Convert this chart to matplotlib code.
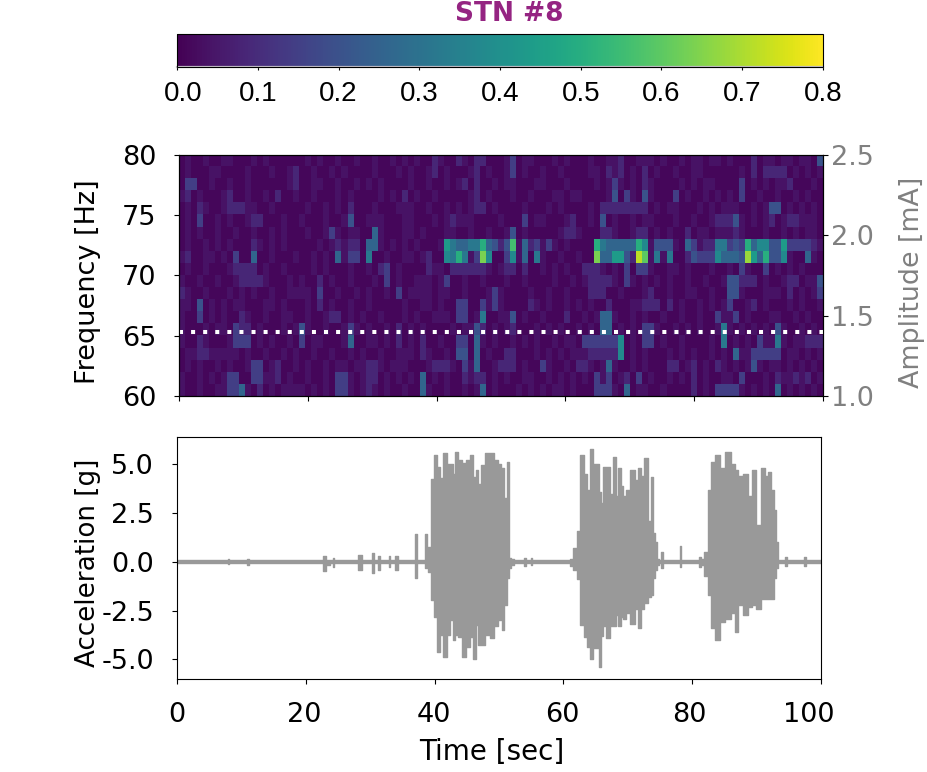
import numpy as np
import matplotlib
matplotlib.use('Agg')
import matplotlib.pyplot as plt
from matplotlib.transforms import ScaledTranslation

plt.rcParams['axes.unicode_minus'] = False
plt.rcParams['font.size'] = 19.5

# spectrogram levels per row (top row = 79-80 Hz), hex digit indexes spec_levels
spec_levels = [0.015, 0.04, 0.085, 0.15, 0.2, 0.26, 0.32, 0.38, 0.44, 0.5, 0.56, 0.6, 0.64, 0.68, 0.72]
spec_rows = [
    "0100100110 0010100000 0101001001 0010010101 0021002102 2000130110 0010100010 0112001110 1001011011 0100020110 1101104",
    "0100011000 0100010012 0010010100 0010001010 0120100012 0100130100 1001000011 0212010201 0010011000 0001020222 2010101",
    "0330010010 0100000012 0011001001 0101000010 0100101202 0010110001 1000100001 0131010210 0001010110 0003010101 1200010",
    "1201000120 0100102001 0010001010 0001010201 0010000012 0100010010 0011011000 0140310410 0030100101 0103001001 0010100",
    "0102100122 2110010000 0100101020 0010001110 0100101012 2010000100 0101000010 2222222201 0110001010 1110010144 0101010",
    "0103001010 0122000100 1000100140 0111000110 0010121110 0001000301 1000120010 4010010110 0010010012 2241010120 1221110",
    "0101001001 0010010100 0100131011 0051000110 1000110010 0100140100 0001221000 2210012201 0100201101 1121000100 1010110",
    "0100101010 0021010100 0001012122 0551010101 0001865566 95424a1523 1310100009 6555559714 4410531226 6343957744 8333321",
    "1200110103 0050010001 0010105133 0600100110 1200769613 c700371506 100100100c 558842eb16 1600243337 5554d85944 7100510",
    "0100100012 2220100100 0010100010 0102301000 0211022222 2101220200 1010100222 1010303310 0110100010 0103100301 0101000",
    "1001001001 2222100010 1002010010 0010301001 1101300100 1000100100 0010010122 2210310101 0100100100 1442220100 1220114",
    "2100100010 1010010011 1103001001 0100103011 1101100100 0131000010 0100100022 2001000120 0100110010 0441000111 0201013",
    "1104010101 1000110100 0102010010 0100000100 1101003300 3131000021 0100101010 0200011222 0201001010 1300120100 0101001",
    "1003010100 2100100110 0100122010 1001000101 0011103301 6001140100 1000200101 5510010100 1001001003 1130100011 0010100",
    "1000101103 2201000101 4100100131 0100102010 1000010114 2010120001 0101001010 5501010331 0010101001 6101010104 1001010",
    "1002100013 3301010010 3011000150 0110102010 2001003305 1010010101 0010110333 3337010330 1001000010 6010103116 1011222",
    "0112211111 0100100101 0010010010 1001001110 2100104405 0100220001 0101011122 2227010100 0101010010 1051133333 0110101",
    "0101001010 0133012001 0100101101 1221011100 0122210315 0012220100 3100102210 1510010100 0220120102 1010141011 0101010",
    "1001010133 0033112010 0100103310 1220101010 5010100212 2010100110 0101010103 1301203010 0101020100 1103000102 1121201",
    "1001001133 5102010111 1010103310 1210100100 5100100101 5010001010 1011010003 3310501100 1000020103 3331010105 0101010",
]

# acceleration envelope: time, upper and lower edge
acc_time = [0, 5, 7.7, 8, 8.3, 10.7, 11, 11.3, 20, 22.4, 22.85, 23.4, 24, 24.3, 24.6, 27.9, 28.4, 28.9, 30.1, 30.4, 30.7, 31, 31.3, 31.6,
            32.7, 33, 33.3, 33.7, 34.1, 34.5, 36.9, 37.15, 37.4, 38.4, 38.65, 38.9, 39.2,
            39.6, 40.1, 40.6, 41.1, 41.65, 42.2, 42.7, 43.05, 43.4, 44.0, 44.5, 45.1, 45.8, 46.15, 46.6, 47.0,
            47.5, 48.15, 48.9, 49.4, 50.2, 50.4, 50.65, 50.95, 51.4, 51.7,
            52, 52.8, 53.7, 54, 54.3, 54.8, 55, 55.2, 60.8, 61.3, 61.8, 62.3,
            62.9, 63.4, 63.9, 64.4, 64.9, 65.4, 65.7, 66, 66.4, 66.9, 67.5, 67.9, 68.3, 68.7, 69.1, 69.5, 70,
            70.8, 71.4, 71.8, 72.3, 72.8, 73.4, 73.7, 74.1, 74.4, 74.7,
            75.05, 75.3, 75.55, 77.95, 78.2, 78.45, 80.8, 81.2, 81.6, 82.2,
            82.7, 83.2, 84, 84.5, 85.6, 86.3, 86.9, 87.4, 88.3, 89, 89.6, 90.3, 91, 91.5, 92, 92.5, 92.9, 93.2,
            93.6, 94.3, 94.6, 94.9, 97.2, 97.5, 97.8, 100]
acc_high = [0.08, 0.08, 0.08, 0.13, 0.08, 0.08, 0.13, 0.08, 0.08, 0.08, 0.3, 0.08, 0.08, 0.2, 0.08, 0.08, 0.35, 0.08, 0.08, 0.45, 0.08, 0.08, 0.3, 0.08,
            0.08, 0.3, 0.08, 0.08, 0.3, 0.08, 0.08, 1.45, 0.08, 0.08, 1.45, 0.3, 0.77,
            4.27, 5.5, 4.87, 4.3, 5.6, 5.0, 5.0, 4.5, 5.65, 5.2, 5.05, 5.2, 5.5, 4.36, 4.7, 4.0,
            4.96, 5.6, 5.6, 5.2, 5.0, 4.8, 4.8, 3.3, 5.1, 0.2,
            0.15, 0.08, 0.08, 0.2, 0.08, 0.08, 0.18, 0.08, 0.08, 0.15, 0.7, 1.6,
            5.47, 4.5, 3.67, 5.8, 5.0, 5.0, 3.6, 3.0, 4.87, 4.87, 3.5, 5.4, 3.4, 4.8, 3.9, 3.4, 3.7,
            4.7, 4.2, 4.8, 4.4, 5.3, 2.1, 4.36, 1.5, 1.0, 0.15,
            0.08, 0.5, 0.08, 0.08, 0.8, 0.08, 0.08, 0.25, 0.15, 0.5,
            3.67, 5.1, 5.5, 4.8, 5.64, 5.0, 4.7, 4.4, 4.5, 3.4, 4.7, 1.9, 4.8, 4.4, 4.6, 3.67, 2.65, 1.0,
            0.08, 0.08, 0.25, 0.08, 0.08, 0.25, 0.08, 0.08]
acc_low = [-0.08, -0.08, -0.08, -0.12, -0.08, -0.08, -0.14, -0.08, -0.08, -0.08, -0.45, -0.14, -0.08, -0.25, -0.08, -0.08, -0.4, -0.08, -0.08, -0.55, -0.08, -0.08, -0.4, -0.08,
           -0.08, -0.25, -0.08, -0.08, -0.4, -0.08, -0.08, -0.85, -0.08, -0.08, -0.3, -0.2, -0.5,
           -1.97, -2.8, -4.6, -3.76, -4.87, -3.76, -3.0, -4.0, -3.76, -3.85, -4.87, -4.36, -3.85, -4.96, -3.25, -4.27,
           -4.27, -3.76, -3.9, -3.3, -3.0, -2.8, -3.5, -2.2, -0.85, -0.3,
           -0.15, -0.08, -0.08, -0.2, -0.08, -0.08, -0.15, -0.08, -0.08, -0.2, -0.4, -0.9,
           -3.25, -3.85, -4.36, -4.96, -4.4, -4.4, -5.4, -3.8, -3.3, -3.9, -3.3, -3.3, -2.7, -3.3, -2.8, -2.9, -2.6,
           -3.2, -2.4, -3.4, -2.4, -2.1, -1.8, -1.7, -0.85, -0.4, -0.15,
           -0.08, -0.3, -0.08, -0.08, -0.25, -0.08, -0.08, -0.25, -0.15, -0.7,
           -1.7, -3.4, -4.0, -3.1, -2.9, -2.6, -3.6, -2.2, -2.7, -2.3, -2.2, -2.4, -1.9, -1.9, -1.9, -1.9, -0.85, -0.3,
           -0.08, -0.08, -0.2, -0.08, -0.08, -0.2, -0.08, -0.08]

freq_ticks = [60, 65, 70, 75, 80]
amp_ticks = [1.0, 1.5, 2.0, 2.5]
acc_ticks = [-5.0, -2.5, 0.0, 2.5, 5.0]
time_ticks = [0, 20, 40, 60, 80, 100]
cbar_ticks = [0.0, 0.1, 0.2, 0.3, 0.4, 0.5, 0.6, 0.7, 0.8]
stim_amp = 1.4

spec = np.array([[spec_levels[int(c, 16)] for c in r.replace(' ', '')] for r in spec_rows])

W, H = 927.0, 772.0
fig = plt.figure(figsize=(9.27, 7.72), dpi=100)

def px_axes(x0, x1, y0, y1):
    return fig.add_axes([x0 / W, 1 - y1 / H, (x1 - x0) / W, (y1 - y0) / H])

def nudge(label, dx_px):
    label.set_transform(label.get_transform() + ScaledTranslation(dx_px / 100, 0, fig.dpi_scale_trans))

cax = px_axes(177, 823, 34, 67)
ax = px_axes(179, 823, 155, 396)
ax2 = ax.twinx()
ax3 = px_axes(177, 821, 437, 679)

im = ax.imshow(spec, cmap='viridis', vmin=0, vmax=0.8, aspect='auto', extent=[0, 100, 60, 80],
               interpolation='nearest')
ax.set_yticks(freq_ticks)
ax.set_xticks(time_ticks)
ax.set_xticklabels([])
ax.tick_params(axis='y', pad=13)
ax.set_ylabel('Frequency [Hz]', fontsize=19.5)
ax.yaxis.set_label_coords(-0.121, 0.473)

ax2.plot([0, 100], [stim_amp, stim_amp], color='white', lw=2.9, linestyle=(0, (1, 2)))
ax2.set_ylim(1.0, 2.5)
ax2.set_xlim(0, 100)
ax2.set_yticks(amp_ticks)
ax2.set_yticklabels(['%.1f' % a for a in amp_ticks])
ax2.tick_params(axis='y', labelcolor='gray', pad=2)
ax2.set_ylabel('Amplitude [mA]', color='gray', fontsize=19.4)
ax2.yaxis.set_label_coords(1.118, 0.473)

cb = fig.colorbar(im, cax=cax, orientation='horizontal', ticks=cbar_ticks)
cb.ax.set_xticklabels(['%.1f' % t for t in cbar_ticks], family='Liberation Sans', fontsize=20)
cax.tick_params(axis='x', length=2, pad=8)
cax.axhline(0, color='#c4c0c8', lw=1.6, clip_on=False)
nudge(cax.get_xticklabels()[0], 6)
fig.text(509.5 / W, 1 - 21 / H, 'STN #8', color='#952482', fontweight='bold', fontsize=19,
         ha='center', va='baseline')

ax3.fill_between(acc_time, acc_low, acc_high, step='mid', color='#999999', lw=1.0)
ax3.set_xlim(0, 100)
ax3.set_ylim(-6.0, 6.4)
ax3.set_yticks(acc_ticks)
ax3.set_yticklabels(['%.1f' % a for a in acc_ticks])
ax3.set_xticks(time_ticks)
ax3.tick_params(axis='both', pad=13)
for lab, dx in zip(ax3.get_xticklabels(), [0, -2, -1, -1, -2.5, -12]):
    nudge(lab, dx)
ax3.set_xlabel('Time [sec]', fontsize=20)
ax3.xaxis.set_label_coords(0.489, -0.245)
ax3.set_ylabel('Acceleration [g]', fontsize=18.8)
ax3.yaxis.set_label_coords(-0.118, 0.479)

plt.savefig('out.png', dpi=100)
